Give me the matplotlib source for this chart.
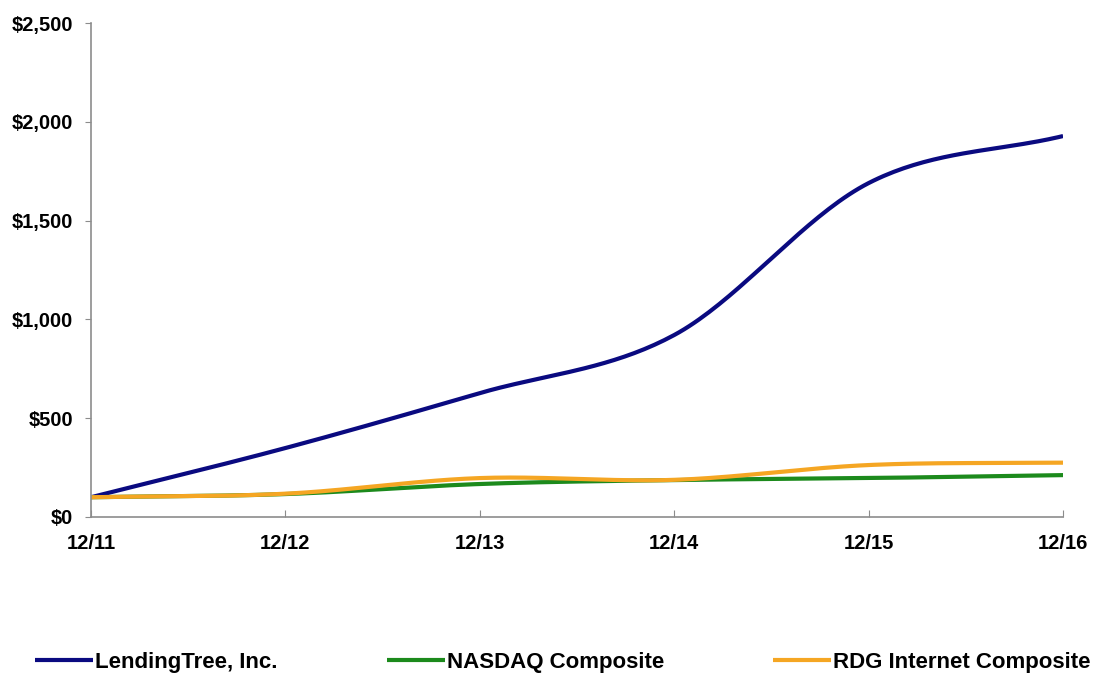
import numpy as np
import matplotlib
matplotlib.use("Agg")
import matplotlib.pyplot as plt
from matplotlib.ticker import FuncFormatter

# Data
periods = ["12/11", "12/12", "12/13", "12/14", "12/15", "12/16"]
lendingtree = [100, 349, 627, 921, 1690, 1928]
nasdaq = [100, 116, 167, 187, 197, 212]
rdg_internet = [100, 118, 197, 188, 263, 275]

series_names = ["LendingTree, Inc.", "NASDAQ Composite", "RDG Internet Composite"]
series_colors = ["#0a0a80", "#1c8a1c", "#f5a623"]


def smooth(x, y, n=40):
    """Catmull-Rom style smoothing through the points (like a spreadsheet smoothed line)."""
    x = np.asarray(x, float)
    y = np.asarray(y, float)
    px = np.concatenate([[2 * x[0] - x[1]], x, [2 * x[-1] - x[-2]]])
    py = np.concatenate([[2 * y[0] - y[1]], y, [2 * y[-1] - y[-2]]])
    xs, ys = [], []
    t = np.linspace(0, 1, n)
    for i in range(1, len(px) - 2):
        p0, p1, p2, p3 = px[i - 1], px[i], px[i + 1], px[i + 2]
        q0, q1, q2, q3 = py[i - 1], py[i], py[i + 1], py[i + 2]
        c1x, c1y = p1 + (p2 - p0) / 6, q1 + (q2 - q0) / 6
        c2x, c2y = p2 - (p3 - p1) / 6, q2 - (q3 - q1) / 6
        bx = (1 - t) ** 3 * p1 + 3 * (1 - t) ** 2 * t * c1x + 3 * (1 - t) * t ** 2 * c2x + t ** 3 * p2
        by = (1 - t) ** 3 * q1 + 3 * (1 - t) ** 2 * t * c1y + 3 * (1 - t) * t ** 2 * c2y + t ** 3 * q2
        xs.append(bx)
        ys.append(by)
    return np.concatenate(xs), np.concatenate(ys)


plt.rcParams["font.family"] = ["Liberation Sans", "DejaVu Sans"]
plt.rcParams["font.weight"] = "bold"

fig = plt.figure(figsize=(11.07, 6.73), dpi=100)
ax = fig.add_axes([0.0822, 0.2318, 0.8781, 0.734])

x = np.arange(len(periods))
for vals, name, col in zip([lendingtree, nasdaq, rdg_internet], series_names, series_colors):
    sx, sy = smooth(x, vals)
    ax.plot(sx, sy, color=col, lw=3, label=name, solid_capstyle="butt")

ax.set_xlim(0, len(periods) - 1)
ax.set_ylim(0, 2500)
ax.set_yticks(np.arange(0, 2501, 500))
ax.yaxis.set_major_formatter(FuncFormatter(lambda v, p: f"${v:,.0f}"))
ax.set_xticks(x)
ax.set_xticklabels(periods)

for side in ["top", "right"]:
    ax.spines[side].set_visible(False)
for side in ["left", "bottom"]:
    ax.spines[side].set_color("#8c8c8c")
    ax.spines[side].set_linewidth(1.2)

ax.tick_params(axis="y", direction="out", length=4, color="#8c8c8c", labelsize=14.5, pad=9)
ax.tick_params(axis="x", direction="in", length=5, color="#8c8c8c", labelsize=14.5, pad=12)
for lbl in ax.get_xticklabels() + ax.get_yticklabels():
    lbl.set_fontweight("bold")

leg = fig.legend(loc="lower left", bbox_to_anchor=(0.014, -0.03), ncol=3, frameon=False,
                 fontsize=16, handlelength=2.6, handletextpad=0.1, columnspacing=4.9)
for t in leg.get_texts():
    t.set_fontweight("bold")

fig.savefig("out.png", dpi=100)
